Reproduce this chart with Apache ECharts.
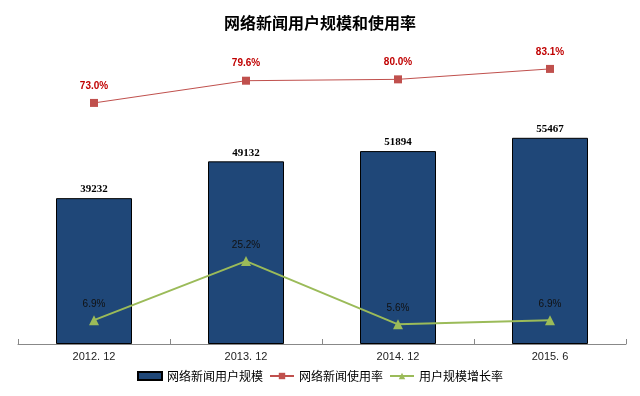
<!DOCTYPE html>
<html>
<head>
<meta charset="utf-8">
<script src="https://cdn.jsdelivr.net/npm/echarts@6/dist/echarts.min.js"></script>
<style>html,body{margin:0;padding:0;background:#fff}#c{width:640px;height:396px}</style>
</head>
<body>
<div id="c"></div>
<script>
var categories = ['2012. 12', '2013. 12', '2014. 12', '2015. 6'];
var userScale = [39232, 49132, 51894, 55467];
var usageRate = [73.0, 79.6, 80.0, 83.1];
var growthRate = [6.9, 25.2, 5.6, 6.9];
var seriesNames = ['网络新闻用户规模', '网络新闻使用率', '用户规模增长率'];

var chart = echarts.init(document.getElementById('c'));
chart.setOption({
  animation: false,
  backgroundColor: '#fff',
  title: {
    text: '网络新闻用户规模和使用率',
    left: 'center', top: 10,
    textStyle: {fontFamily: 'Noto Sans CJK SC', fontSize: 16, fontWeight: 'bold', color: '#000'}
  },
  legend: {
    bottom: 9, left: 'center',
    itemWidth: 24, itemHeight: 8, itemGap: 6,
    textStyle: {fontFamily: 'Noto Sans CJK SC', fontSize: 12, color: '#000'},
    data: [{name: seriesNames[0], icon: 'rect'}, {name: seriesNames[1]}, {name: seriesNames[2]}]
  },
  grid: {left: 18, right: 14, top: 44, bottom: 52},
  xAxis: {
    type: 'category', data: categories, boundaryGap: true,
    axisLine: {show: true, lineStyle: {color: '#888'}},
    axisTick: {show: true, inside: true, length: 5, alignWithLabel: false, lineStyle: {color: '#888'}},
    axisLabel: {color: '#222', fontSize: 11, margin: 7, fontFamily: 'Liberation Sans'}
  },
  yAxis: [
    {type: 'value', min: 0, max: 80700, show: false},
    {type: 'value', min: 1.4, max: 90.5, show: false},
    {type: 'value', min: -0.5, max: 92.5, show: false}
  ],
  series: [
    {
      name: seriesNames[0], type: 'bar', yAxisIndex: 0, data: userScale,
      barWidth: '50%',
      itemStyle: {color: '#1f4778', borderColor: '#000', borderWidth: 1},
      label: {show: true, position: 'top', distance: 3, color: '#000',
        fontFamily: 'Liberation Serif', fontWeight: 'bold', fontSize: 11}
    },
    {
      name: seriesNames[1], type: 'line', yAxisIndex: 1, data: usageRate,
      symbol: 'rect', symbolSize: 8,
      lineStyle: {color: '#c0504d', width: 1}, itemStyle: {color: '#c0504d'},
      label: {show: true, position: 'top', distance: 8, color: '#c00000',
        fontFamily: 'Liberation Sans', fontWeight: 'bold', fontSize: 10,
        formatter: function (p) { return p.value.toFixed(1) + '%'; }}
    },
    {
      name: seriesNames[2], type: 'line', yAxisIndex: 2, data: growthRate,
      symbol: 'triangle', symbolSize: 10,
      lineStyle: {color: '#9bbb59', width: 2}, itemStyle: {color: '#9bbb59'},
      label: {show: true, position: 'top', distance: 6, color: '#111',
        fontFamily: 'Liberation Sans', fontSize: 10,
        formatter: function (p) { return p.value.toFixed(1) + '%'; }}
    }
  ]
});
</script>
</body>
</html>
